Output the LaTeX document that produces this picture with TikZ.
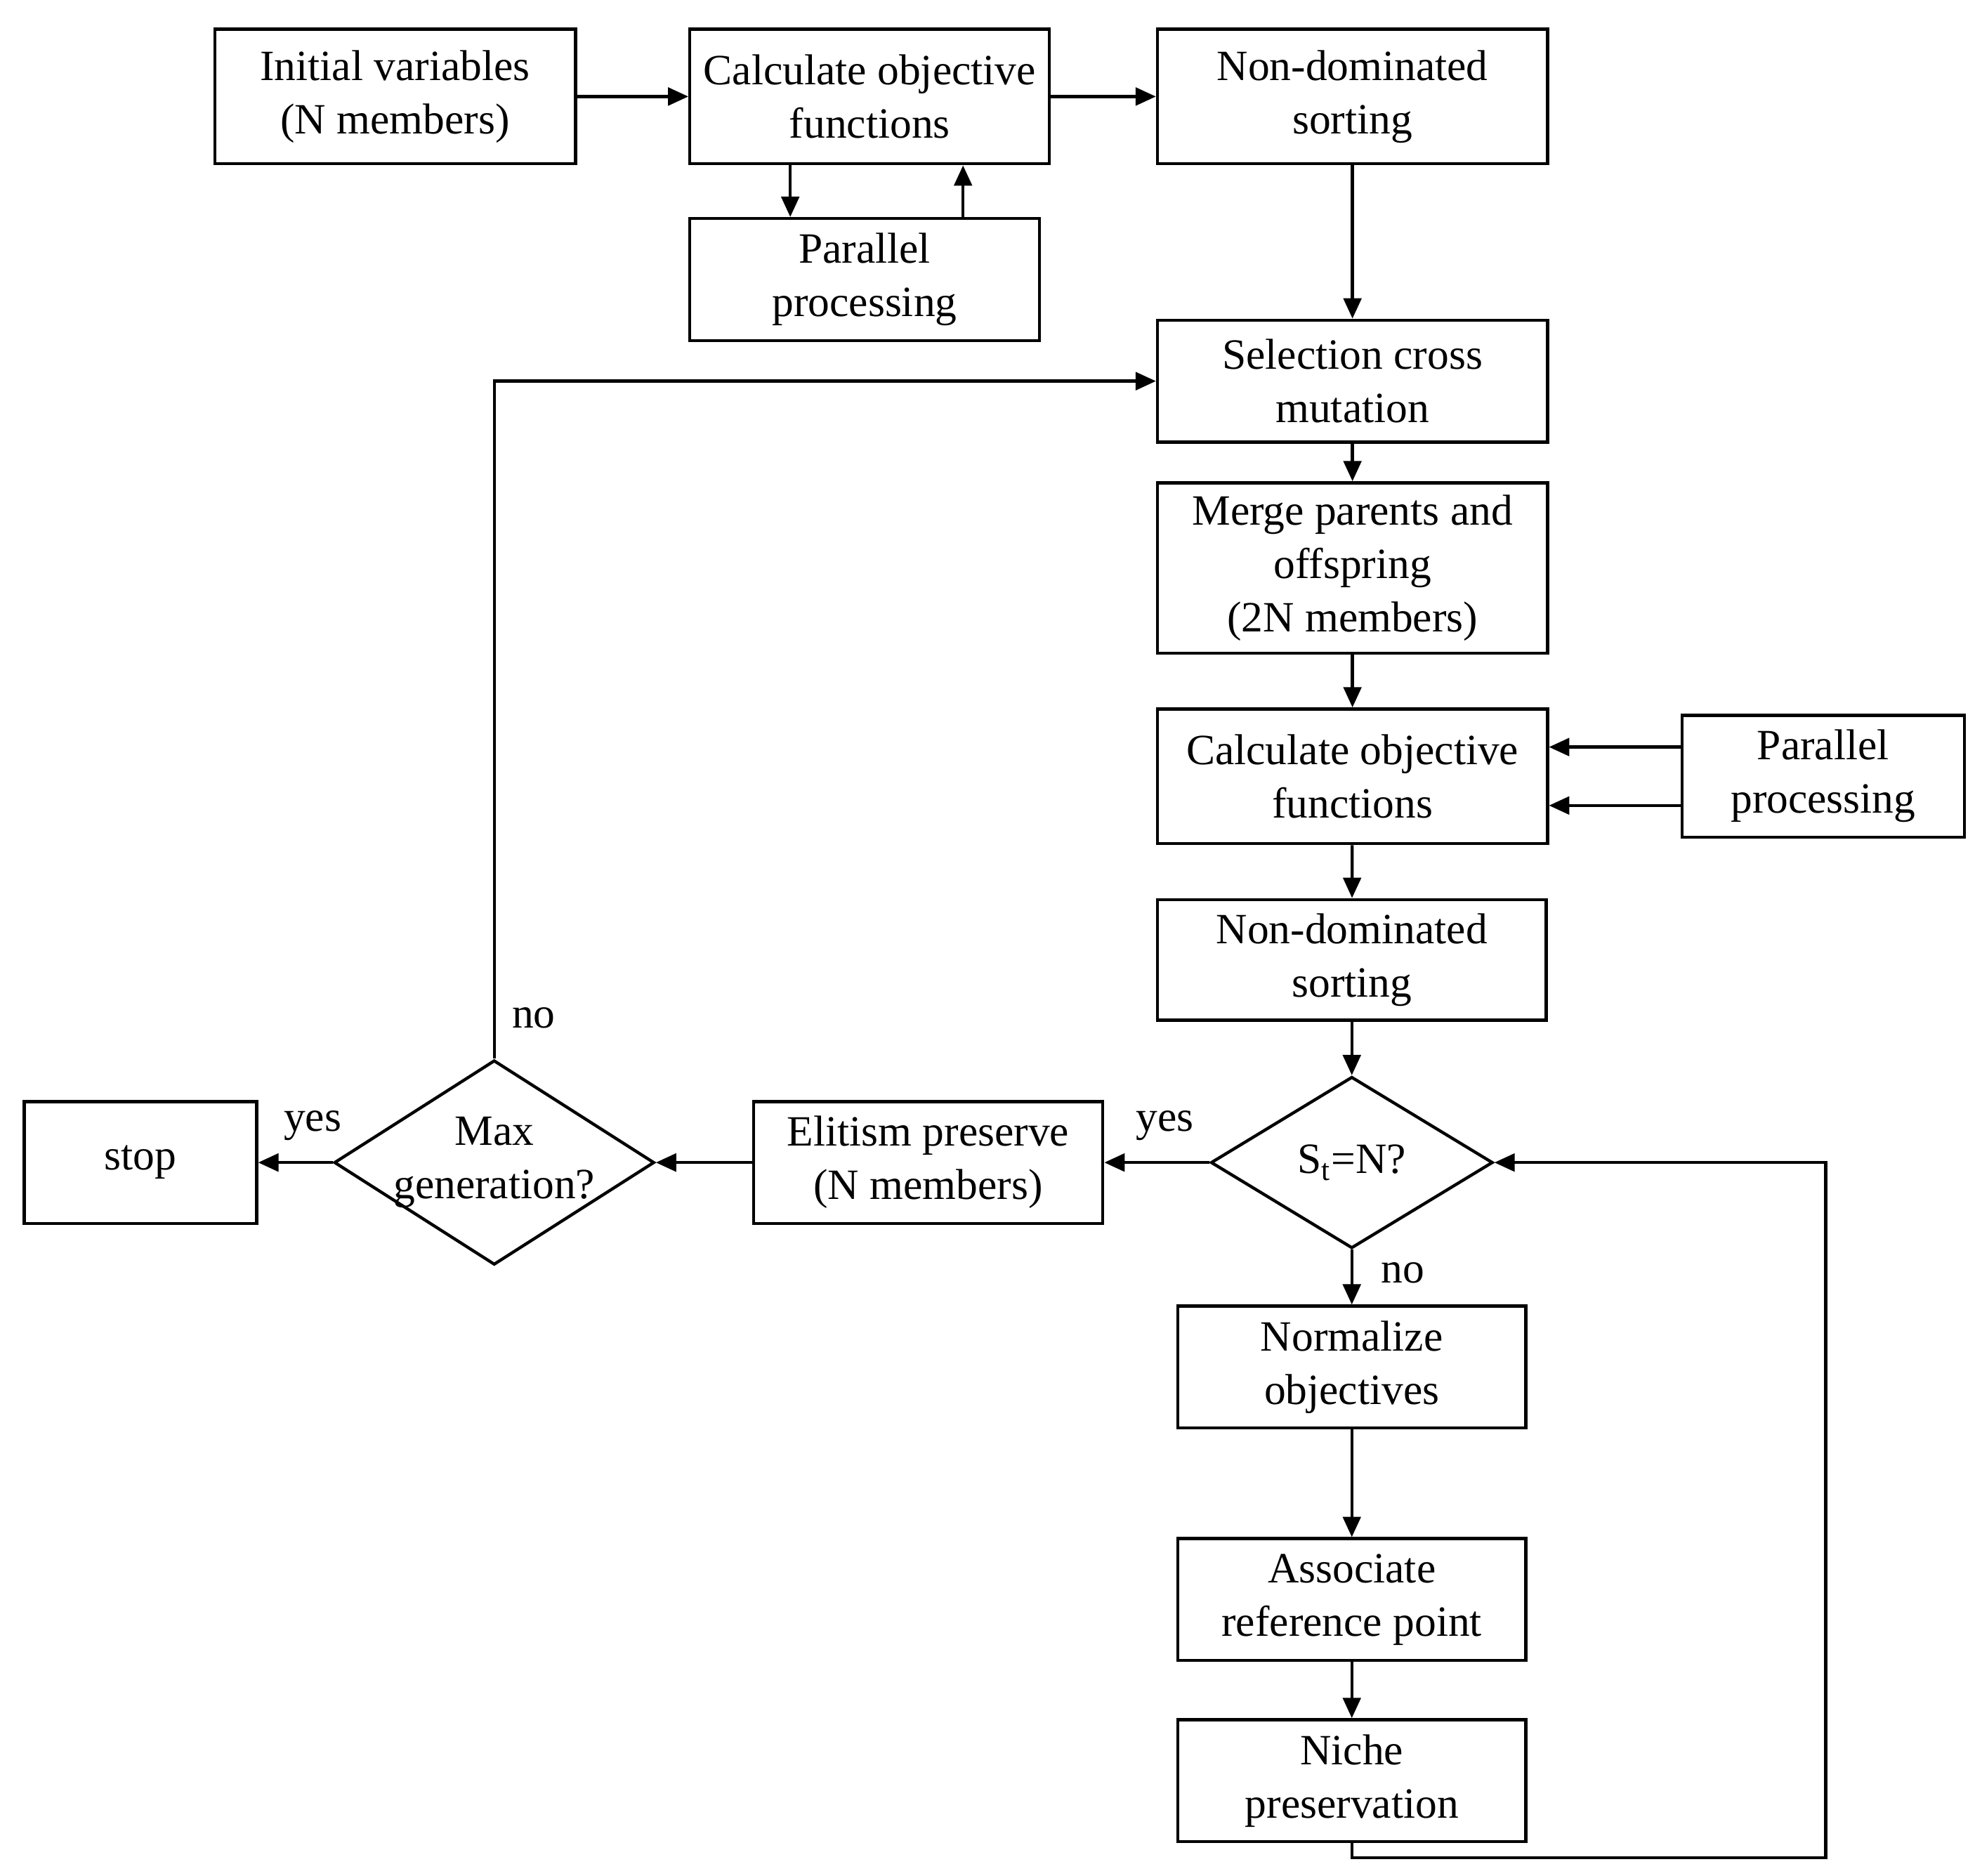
\documentclass[tikz,border=0pt]{standalone}
\usepackage{fontspec}
\setmainfont{Liberation Serif}
\usetikzlibrary{arrows.meta,shapes.geometric}

\begin{document}
\begin{tikzpicture}[x=25pt, y=25pt, line width=1.2pt,
    font=\fontsize{17pt}{21pt}\selectfont,
    box/.style={draw, align=center, inner sep=2pt, minimum width=137.5pt, minimum height=48pt},
    decision/.style={diamond, draw, inner sep=0pt},
    lbl/.style={inner sep=0pt},
    >={Triangle[length=8pt,width=7pt]}]
        \useasboundingbox (0,0) rectangle (31.2,29.52);

        \node[box, minimum width=142pt, minimum height=53pt] at (6.22, 28.00)(init){Initial variables\\(N members)};
        \node[box, minimum width=141.5pt, minimum height=53pt] at (13.69, 28.00)(calc1){Calculate objective\\functions};
        \node[box, minimum width=153.5pt, minimum height=53pt] at (21.29, 28.00)(sort1){Non-dominated\\sorting};
        \node[box] at (13.61, 25.12)(par1){Parallel\\processing};
        \node[box, minimum width=153.5pt] at (21.29, 23.52)(select){Selection cross\\mutation};
        \node[box, minimum width=153.5pt, minimum height=67pt] at (21.29, 20.58)(merge){Merge parents and\\offspring\\(2N members)};
        \node[box, minimum width=153.5pt, minimum height=53pt] at (21.29, 17.30)(calc2){Calculate objective\\functions};
        \node[box, minimum width=111pt] at (28.70, 17.30)(par2){Parallel\\processing};
        \node[box, minimum width=153pt, minimum height=47.5pt] at (21.28, 14.41)(sort2){Non-dominated\\sorting};
        \node[decision, minimum width=111pt, minimum height=67.5pt,
              label={[lbl]center:S\textsubscript{t}=N?}] at (21.28, 11.22)(check){};
        \node[box] at (14.61, 11.22)(elite){Elitism preserve\\(N members)};
        \node[decision, minimum width=126pt, minimum height=80.5pt,
              label={[lbl, align=center]center:Max\\generation?}] at (7.78, 11.22)(maxgen){};
        \node[box, minimum width=91.5pt] at (2.21, 11.22)(stop){stop};
        \node[box, minimum width=137pt] at (21.28, 8.00)(norm){Normalize\\objectives};
        \node[box, minimum width=137pt] at (21.28, 4.34)(assoc){Associate\\reference point};
        \node[box, minimum width=137pt] at (21.28, 1.49)(niche){Niche\\preservation};
        \coordinate (back) at (28.74, 0.28);

        \node[lbl] at (8.40, 13.50){no};
        \node[lbl] at (18.34, 11.80){yes};
        \node[lbl] at (4.92, 11.80){yes};
        \node[lbl] at (22.08, 9.48){no};

        \path[->]
        (init)edge(calc1)
        (calc1)edge(sort1)
        (sort1)edge(select)
        (select)edge(merge)
        (merge)edge(calc2)
        (calc2)edge(sort2)
        (sort2)edge(check)
        (check)edge(elite)
        (elite)edge(maxgen)
        (maxgen)edge(stop)
        (check)edge(norm)
        (norm)edge(assoc)
        (assoc)edge(niche)
        ;

        \draw[->] ([xshift=-31.25pt]calc1.south) -- ([xshift=-31.25pt]calc1.south |- par1.north);
        \draw[->] ([xshift=36.75pt]calc1.south |- par1.north) -- ([xshift=36.75pt]calc1.south);
        \draw[->] ([yshift=11.5pt]par2.west) -- ([yshift=11.5pt]par2.west -| calc2.east);
        \draw[->] ([yshift=-11.5pt]par2.west) -- ([yshift=-11.5pt]par2.west -| calc2.east);
        \draw[->] (maxgen.north) |- (select.west);
        \draw[->] (niche.south) -- (niche.south |- back) -- (back) |- (check.east);
    \end{tikzpicture}
\end{document}
